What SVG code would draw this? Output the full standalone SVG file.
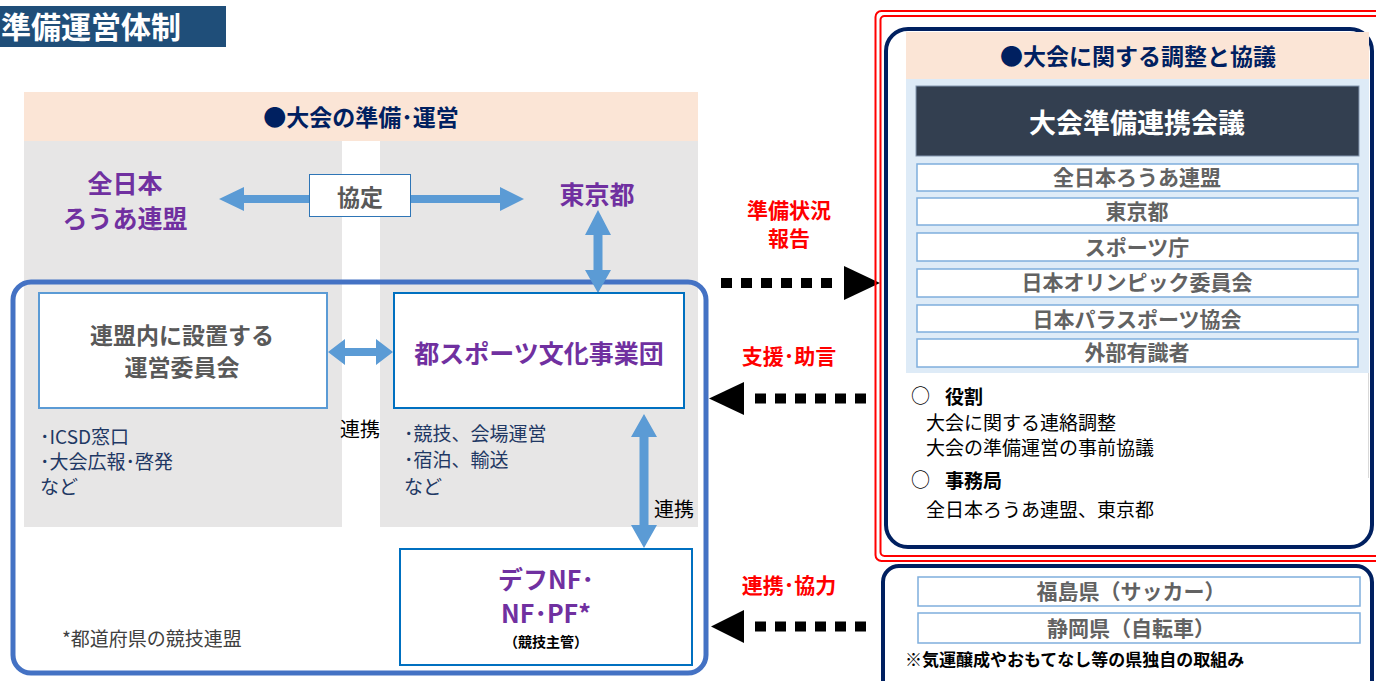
<svg xmlns="http://www.w3.org/2000/svg" width="1376" height="681" viewBox="0 0 1376 681">
<style>
text{font-family:"Noto Sans CJK JP","Noto Sans",sans-serif}
.b{font-weight:bold}
.pur{fill:#7030A0;font-weight:bold;font-size:25px}
.gry{fill:#595959;font-weight:bold}
.navy{fill:#002060;font-weight:bold;font-size:23px}
.lst{fill:#1F3864;font-size:19px}
.red{fill:#FF0000;font-weight:bold;font-size:21px}
.mem{fill:#FFFFFF;stroke:#7FAEDD;stroke-width:1.5}
.memt{fill:#626262;font-weight:bold;font-size:21px}
.arr{fill:#5B9BD5}
.dot{stroke:#000;stroke-width:10;stroke-dasharray:11 9;fill:none}
.blk{fill:#000}
.mid{text-anchor:middle}
.body{font-size:19px;fill:#000}
</style>

<g id="title">
<rect x="0" y="6" width="226" height="41" fill="#1F4E79"/>
<text x="1" y="38" fill="#FFFFFF" class="b" font-size="30">準備運営体制</text>
</g>

<g id="left-section">
<rect x="24" y="92" width="674" height="49" fill="#FBE5D6"/>
<text x="361" y="126" class="navy mid">●大会の準備･運営</text>
<rect x="24" y="141" width="318" height="386" fill="#E7E6E6"/>
<rect x="380" y="141" width="318" height="386" fill="#E7E6E6"/>
</g>

<g id="zennihon">
<text x="125" y="193" class="pur mid" font-size="24">全日本</text>
<text x="125" y="228" class="pur mid" font-size="24">ろうあ連盟</text>
</g>
<g id="tokyo">
<text x="597" y="204" class="pur mid">東京都</text>
</g>

<g id="outer-blue">
<rect x="13" y="282" width="693" height="391" rx="18" fill="none" stroke="#4472C4" stroke-width="5"/>
<text x="62" y="646" fill="#404040" font-size="19">*都道府県の競技連盟</text>
</g>

<g id="connectors">
<polygon class="arr" points="219,199 244,187 244,195 500,195 500,187 524,199 500,211 500,203 244,203 244,211"/>
<polygon class="arr" points="598,210 611,235 602.5,235 602.5,270 611,270 598,293 585,270 593.5,270 593.5,235 585,235"/>
<polygon class="arr" points="328,352 345,339 345,348 376,348 376,339 393,352 376,365 376,356 345,356 345,365"/>
<polygon class="arr" points="644,414 657,437 648.5,437 648.5,525 657,525 644,548 631,525 639.5,525 639.5,437 631,437"/>
<line class="dot" x1="721" y1="283" x2="838" y2="283"/>
<polygon class="blk" points="844,266 880,283 844,300"/>
<line class="dot" x1="866" y1="398.5" x2="752" y2="398.5"/>
<polygon class="blk" points="744,382 709,398.5 744,415"/>
<line class="dot" x1="866" y1="626.5" x2="752" y2="626.5"/>
<polygon class="blk" points="744,610 711,626.5 744,643"/>
<text x="789" y="218" class="red mid">準備状況</text>
<text x="789" y="246" class="red mid">報告</text>
<text x="789" y="364" class="red mid">支援･助言</text>
<text x="789" y="593" class="red mid">連携･協力</text>
<text x="340" y="437" font-size="20" fill="#000">連携</text>
<text x="654" y="517" font-size="20" fill="#000">連携</text>
</g>

<g id="kyotei">
<rect x="309.5" y="174.5" width="101" height="42" fill="#FFFFFF" stroke="#2E75B6" stroke-width="1"/>
<text x="360" y="206" class="gry mid" font-size="23">協定</text>
</g>

<g id="unei-iinkai">
<rect x="39" y="293" width="288" height="115" fill="#FFFFFF" stroke="#5B9BD5" stroke-width="2"/>
<text x="182" y="344" class="gry mid" font-size="23">連盟内に設置する</text>
<text x="182" y="376" class="gry mid" font-size="23">運営委員会</text>
<text x="40" y="444" class="lst">･ICSD窓口</text>
<text x="40" y="469" class="lst">･大会広報･啓発</text>
<text x="40" y="494" class="lst">など</text>
</g>

<g id="sports-bunka">
<rect x="394" y="293" width="290" height="115" fill="#FFFFFF" stroke="#0070C0" stroke-width="2"/>
<text x="539" y="363" class="pur mid" font-size="24">都スポーツ文化事業団</text>
<text x="404" y="441" class="lst">･競技、会場運営</text>
<text x="404" y="467" class="lst">･宿泊、輸送</text>
<text x="404" y="494" class="lst">など</text>
</g>

<g id="nf">
<rect x="400" y="549" width="292" height="116" fill="#FFFFFF" stroke="#0070C0" stroke-width="2"/>
<text x="546" y="589" class="pur mid" font-size="22">デフNF･</text>
<text x="546" y="623" class="pur mid" font-size="22">NF･PF*</text>
<text x="546" y="647" class="b mid" font-size="14" fill="#000">（競技主管）</text>
</g>

<g id="kaigi">
<rect x="875.5" y="11" width="540" height="550" rx="6" fill="none" stroke="#FF0000" stroke-width="2"/>
<rect x="880.5" y="16" width="530" height="540" rx="4" fill="none" stroke="#FF0000" stroke-width="2"/>
<rect x="886" y="29" width="486" height="518" rx="22" fill="#FFFFFF" stroke="#002060" stroke-width="4"/>
<rect x="906" y="32" width="463" height="47" fill="#FBE5D6"/>
<text x="1138" y="65" class="navy mid">●大会に関する調整と協議</text>
<rect x="906" y="79" width="463" height="294" fill="#DEEBF7"/>
<line x1="1368.5" y1="373" x2="1368.5" y2="478" stroke="#D9D9D9" stroke-width="1"/>
<rect x="916" y="86" width="443" height="70" fill="#333F50" stroke="#8497B0" stroke-width="1"/>
<text x="1137" y="133" class="b mid" font-size="27" fill="#FFFFFF">大会準備連携会議</text>
<rect class="mem" x="917" y="164" width="441" height="27"/>
<text x="1137" y="185" class="memt mid">全日本ろうあ連盟</text>
<rect class="mem" x="917" y="198" width="441" height="27"/>
<text x="1137" y="219" class="memt mid">東京都</text>
<rect class="mem" x="917" y="233" width="441" height="28"/>
<text x="1137" y="255" class="memt mid">スポーツ庁</text>
<rect class="mem" x="917" y="269" width="441" height="28"/>
<text x="1137" y="290" class="memt mid">日本オリンピック委員会</text>
<rect class="mem" x="917" y="305" width="441" height="27"/>
<text x="1137" y="327" class="memt mid">日本パラスポーツ協会</text>
<rect class="mem" x="917" y="339" width="441" height="28"/>
<text x="1137" y="360" class="memt mid">外部有識者</text>
<text x="911" y="403" class="body" font-size="20">○</text>
<text x="945" y="404" class="b body">役割</text>
<text x="926" y="430" class="body">大会に関する連絡調整</text>
<text x="926" y="455" class="body">大会の準備運営の事前協議</text>
<text x="911" y="487" class="body" font-size="20">○</text>
<text x="945" y="488" class="b body">事務局</text>
<text x="926" y="517" class="body">全日本ろうあ連盟、東京都</text>
</g>

<g id="prefectures">
<rect x="883" y="566" width="489" height="130" rx="16" fill="#FFFFFF" stroke="#002060" stroke-width="4"/>
<rect class="mem" x="918" y="577" width="442" height="29"/>
<text x="1131" y="599" class="memt mid">福島県（サッカー）</text>
<rect class="mem" x="918" y="613" width="442" height="30"/>
<text x="1131" y="636" class="memt mid">静岡県（自転車）</text>
<text x="905" y="666" class="b" font-size="17" fill="#000">※気運醸成やおもてなし等の県独自の取組み</text>
</g>
</svg>
